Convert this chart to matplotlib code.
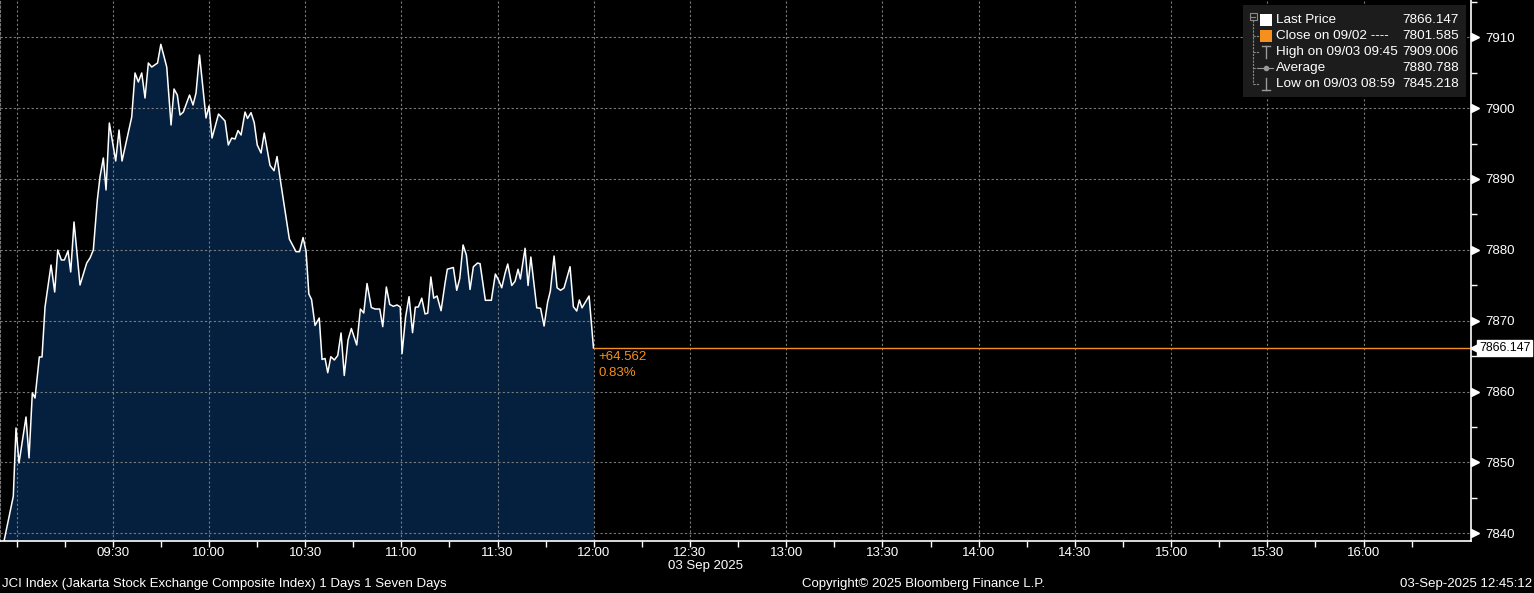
import matplotlib
matplotlib.use("Agg")
import matplotlib.pyplot as plt
from matplotlib.patches import Rectangle
from matplotlib.lines import Line2D
import matplotlib.transforms as mtransforms

plt.rcParams['font.family'] = ['Liberation Sans', 'DejaVu Sans']

# ---- data: minutes after 09:00 (03 Sep 2025) and JCI index level ----
minutes = [-3.90, -1.00, -0.16, 0.78, 2.96, 3.90, 4.93, 5.77, 7.11, 7.95,
           8.89, 10.76, 11.91, 12.85, 13.97, 14.91, 16.06, 16.90, 17.93, 19.80,
           21.89, 22.92, 23.95, 25.20, 26.04, 27.07, 27.91, 28.94, 30.93, 31.96,
           32.90, 35.92, 36.95, 37.98, 39.04, 40.07, 41.10, 42.16, 43.97, 45.00,
           46.84, 48.18, 49.11, 50.14, 50.98, 52.01, 53.95, 55.04, 55.97, 57.06,
           59.09, 60.03, 60.96, 62.99, 65.02, 66.04, 67.10, 68.13, 69.07, 70.01,
           71.25, 72.03, 73.12, 74.12, 75.06, 76.24, 77.24, 79.05, 80.29, 81.23,
           82.16, 85.07, 87.15, 88.25, 89.34, 90.27, 91.15, 91.99, 93.08, 94.39,
           95.26, 96.20, 97.04, 98.01, 99.10, 100.16, 101.19, 102.19, 103.37, 104.40,
           106.08, 107.21, 108.27, 109.29, 110.63, 111.79, 113.25, 114.19, 115.31, 116.37,
           117.49, 118.65, 119.65, 120.21, 121.30, 122.39, 123.48, 124.35, 125.29, 126.35,
           127.38, 128.22, 129.19, 130.09, 131.12, 132.37, 133.62, 134.33, 136.20, 137.26,
           138.20, 139.23, 140.26, 141.41, 142.44, 143.75, 144.53, 146.18, 148.05, 149.30,
           150.36, 151.29, 152.32, 153.16, 154.41, 155.44, 156.38, 157.10, 158.56, 159.50,
           160.37, 162.21, 163.40, 164.49, 165.58, 166.45, 167.61, 168.54, 169.63, 170.72,
           172.59, 173.62, 174.68, 175.49, 176.33, 178.52, 179.90]
prices = [7838.90, 7845.22, 7854.86, 7849.92, 7856.41, 7850.63, 7859.80, 7859.09, 7864.88, 7864.88,
          7871.94, 7877.86, 7874.05, 7879.98, 7878.57, 7878.57, 7879.84, 7876.88, 7883.93, 7875.04,
          7878.14, 7878.85, 7879.98, 7887.04, 7890.32, 7892.96, 7888.45, 7897.90, 7892.54, 7896.91,
          7892.54, 7898.75, 7904.96, 7903.69, 7904.96, 7901.43, 7906.37, 7905.80, 7906.37, 7909.01,
          7905.80, 7897.62, 7902.70, 7901.85, 7899.03, 7899.45, 7901.85, 7900.44, 7902.14, 7907.50,
          7898.61, 7900.30, 7895.78, 7899.17, 7898.18, 7894.80, 7895.78, 7895.64, 7896.84, 7896.21,
          7899.45, 7898.54, 7899.36, 7897.94, 7894.80, 7893.67, 7896.49, 7891.90, 7891.17, 7893.17,
          7890.14, 7881.53, 7879.74, 7879.74, 7881.74, 7879.84, 7873.77, 7872.99, 7869.33, 7870.38,
          7864.53, 7864.67, 7862.66, 7864.92, 7864.46, 7865.09, 7868.27, 7862.27, 7867.28, 7868.90,
          7866.57, 7871.65, 7871.09, 7875.25, 7871.86, 7871.65, 7871.65, 7869.16, 7874.76, 7872.29,
          7872.03, 7872.22, 7871.94, 7865.37, 7870.48, 7873.39, 7868.31, 7871.91, 7871.94, 7873.18,
          7870.95, 7871.06, 7876.17, 7873.18, 7873.49, 7871.41, 7875.32, 7877.27, 7877.51, 7874.29,
          7875.96, 7880.69, 7879.27, 7874.41, 7877.61, 7878.14, 7878.05, 7872.88, 7872.88, 7876.59,
          7875.68, 7874.65, 7876.69, 7878.00, 7874.97, 7875.56, 7877.26, 7875.89, 7880.22, 7874.97,
          7878.99, 7871.82, 7871.75, 7869.25, 7872.57, 7874.19, 7879.13, 7874.65, 7874.29, 7874.62,
          7877.62, 7871.98, 7871.37, 7872.92, 7871.82, 7873.49, 7866.147]

last_price = 7866.147
prev_close = 7801.585
change_txt = "+64.562"
change_pct_txt = "0.83%"
session_end = 180          # 12:00
y_ticks = [7840, 7850, 7860, 7870, 7880, 7890, 7900, 7910]
y_minor = [7845, 7855, 7865, 7875, 7885, 7895, 7905, 7915]
x_major = [0, 30, 60, 90, 120, 150, 180, 210, 240, 270, 300, 330, 360, 390, 420]
x_labels = ['', '09:30', '10:00', '10:30', '11:00', '11:30', '12:00', '12:30',
            '13:00', '13:30', '14:00', '14:30', '15:00', '15:30', '16:00']
x_minor = [15, 45, 75, 105, 135, 165, 195, 225, 255, 285, 315, 345, 375, 405, 435]
legend_labels = ['Last Price', 'Close on 09/02 ----', 'High on 09/03 09:45',
                 'Average', 'Low on 09/03 08:59']
legend_values = ['7866.147', '7801.585', '7909.006', '7880.788', '7845.218']

ORANGE = '#f5901e'
NAVY = '#05203e'
GRID = '#7a7a7a'

W, H = 1534, 593
fig = plt.figure(figsize=(W / 100, H / 100), dpi=100, facecolor='black')
ax = fig.add_axes([0, 52 / H, 1471 / W, 541 / H], facecolor='black')

ymin, ymax = 7838.91, 7915.26
ax.set_xlim(-5.15, 453.5)
ax.set_ylim(ymin, ymax)

ax.fill_between(minutes, prices, ymin, color=NAVY, lw=0, zorder=1)
ax.plot(minutes, prices, color='white', lw=1.1, zorder=3)
ax.plot([session_end, 453.5], [last_price, last_price], color=ORANGE, lw=1, zorder=3)

# grid
for xv in x_major:
    ax.axvline(xv, color=GRID, lw=0.8, ls=(0, (2, 2)), zorder=2)
for yv in y_ticks:
    ax.axhline(yv, color=GRID, lw=0.8, ls=(0, (2, 2)), zorder=2)

# spines
ax.spines['top'].set_visible(False)
ax.spines['left'].set_color(GRID)
ax.spines['left'].set_linestyle((0, (2, 2)))
ax.spines['left'].set_linewidth(0.8)
ax.spines['bottom'].set_color('white')
ax.spines['right'].set_color('white')
ax.spines['bottom'].set_linewidth(1.2)
ax.spines['right'].set_linewidth(1.2)

# x axis
ax.set_xticks(x_major)
ax.set_xticklabels(x_labels)
ax.set_xticks(x_minor, minor=True)
ax.tick_params(axis='x', which='both', colors='white', length=4, width=1,
               labelsize=9.5, pad=0.5, direction='out')

# y axis on right
ax.yaxis.tick_right()
ax.set_yticks(y_ticks)
ax.set_yticklabels([str(v) for v in y_ticks])
ax.set_yticks(y_minor, minor=True)
ax.tick_params(axis='y', which='major', colors='white', length=0, labelsize=9.5, pad=10)
ax.tick_params(axis='y', which='minor', colors='white', length=4, width=1, direction='out')
ax.tick_params(axis='y', which='both', left=False, labelleft=False)

tri_tr = mtransforms.blended_transform_factory(ax.transAxes, ax.transData) + \
    mtransforms.ScaledTranslation(4 / 100, 0, fig.dpi_scale_trans)
ax.plot([1] * len(y_ticks), y_ticks, ls='none', marker='>', ms=5.5, color='white',
        transform=tri_tr, clip_on=False)

# last price tag on right axis
tag_tr = mtransforms.blended_transform_factory(ax.transAxes, ax.transData)
ax.plot([1], [last_price], ls='none', marker='<', ms=8, color='white',
        transform=tag_tr + mtransforms.ScaledTranslation(5 / 100, 0, fig.dpi_scale_trans),
        clip_on=False, zorder=5)
ax.text(1.0, last_price, f"{last_price:.3f}",
        transform=tag_tr + mtransforms.ScaledTranslation(8 / 100, 0, fig.dpi_scale_trans),
        ha='left', va='center', fontsize=8.9, color='black', clip_on=False, zorder=6,
        bbox=dict(boxstyle='square,pad=0.15', fc='white', ec='white'))

# change annotation
ax.annotate(change_txt, xy=(session_end, last_price), xytext=(5, -9),
            textcoords='offset pixels', color=ORANGE, fontsize=9.5, ha='left', va='center')
ax.annotate(change_pct_txt, xy=(session_end, last_price), xytext=(5, -25),
            textcoords='offset pixels', color=ORANGE, fontsize=9.5, ha='left', va='center')


def fx(px):
    return px / W


def fy(py):
    return 1 - py / H


# ---- legend ----
fig.add_artist(Rectangle((fx(1243), fy(97)), fx(1466) - fx(1243), fy(5) - fy(97),
                         transform=fig.transFigure, fc='#1c1c1c', ec='none', zorder=10))
rows_y = [20, 36, 52, 68, 84]
tree_c = '#8a8a8a'
fig.add_artist(Rectangle((fx(1249.5), fy(20)), fx(7), fy(13) - fy(20), transform=fig.transFigure,
                         fc='none', ec=tree_c, lw=0.8, zorder=11))
fig.add_artist(Line2D([fx(1251), fx(1255)], [fy(16.5), fy(16.5)], transform=fig.transFigure,
                      color=tree_c, lw=0.8, zorder=11))
fig.add_artist(Line2D([fx(1253), fx(1253)], [fy(20), fy(84)], transform=fig.transFigure,
                      color=tree_c, lw=0.8, ls=(0, (2, 1)), zorder=11))
for ry in rows_y[1:]:
    fig.add_artist(Line2D([fx(1253), fx(1259)], [fy(ry), fy(ry)], transform=fig.transFigure,
                          color=tree_c, lw=0.8, ls=(0, (2, 1)), zorder=11))
# icons
fig.add_artist(Rectangle((fx(1260), fy(26)), fx(12), fy(14) - fy(26), transform=fig.transFigure,
                         fc='white', ec='none', zorder=11))
fig.add_artist(Rectangle((fx(1260), fy(42)), fx(12), fy(30) - fy(42), transform=fig.transFigure,
                         fc=ORANGE, ec='none', zorder=11))
ic = '#9a9a9a'
fig.add_artist(Line2D([fx(1266), fx(1266)], [fy(46), fy(58)], transform=fig.transFigure, color=ic, lw=1, zorder=11))
fig.add_artist(Line2D([fx(1262), fx(1270)], [fy(46), fy(46)], transform=fig.transFigure, color=ic, lw=1, zorder=11))
fig.add_artist(Line2D([fx(1259), fx(1273)], [fy(68), fy(68)], transform=fig.transFigure, color=ic, lw=0.8, zorder=11))
fig.add_artist(Line2D([fx(1266)], [fy(68)], transform=fig.transFigure, color=ic, marker='o', ms=3, zorder=11))
fig.add_artist(Line2D([fx(1266), fx(1266)], [fy(78), fy(90)], transform=fig.transFigure, color=ic, lw=1, zorder=11))
fig.add_artist(Line2D([fx(1262), fx(1270)], [fy(90), fy(90)], transform=fig.transFigure, color=ic, lw=1, zorder=11))
for ry, lab, val in zip(rows_y, legend_labels, legend_values):
    fig.text(fx(1276), fy(ry), lab, color='white', fontsize=9.7, ha='left', va='center', zorder=12)
    fig.text(fx(1459), fy(ry), val, color='white', fontsize=9.7, ha='right', va='center', zorder=12)

# ---- footer ----
fig.text(fx(706), fy(566), '03 Sep 2025', color='white', fontsize=9.5, ha='center', va='center')
fig.text(fx(2), fy(584), 'JCI Index (Jakarta Stock Exchange Composite Index) 1 Days 1 Seven Days',
         color='white', fontsize=9.5, ha='left', va='center')
fig.text(fx(924), fy(584), 'Copyright\u00a9 2025 Bloomberg Finance L.P.', color='white',
         fontsize=9.5, ha='center', va='center')
fig.text(fx(1532), fy(584), '03-Sep-2025 12:45:12', color='white', fontsize=9.5,
         ha='right', va='center')

fig.savefig('out.png', dpi=100, facecolor='black')
